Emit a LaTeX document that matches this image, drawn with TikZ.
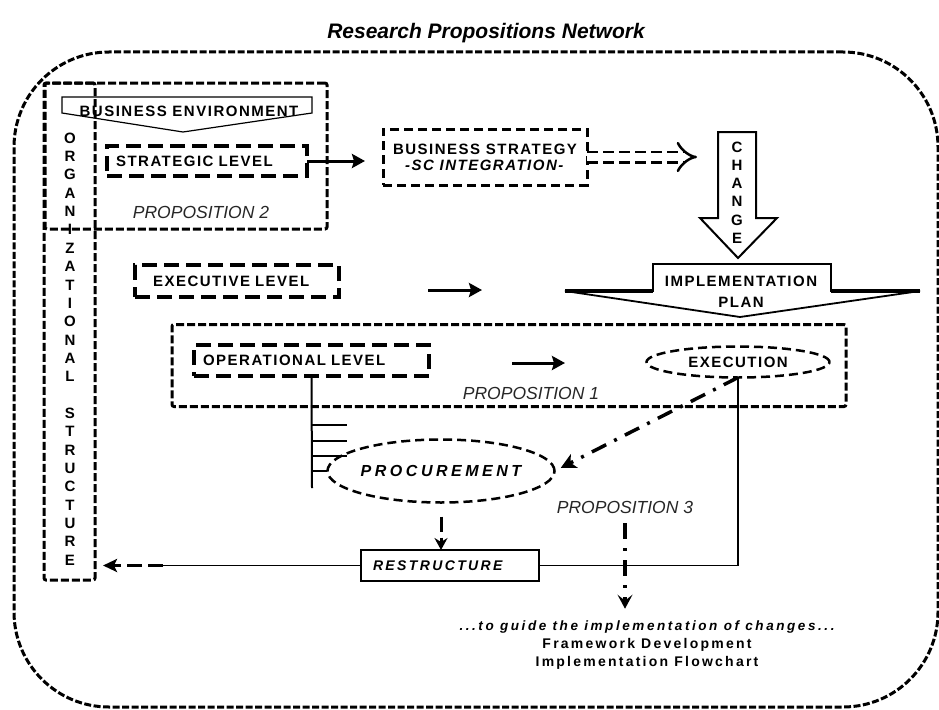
\documentclass[tikz,border=0pt]{standalone}
\usepackage{fontspec}
\setmainfont{Liberation Sans}
\newfontfamily\lblfont[LetterSpace=10]{Liberation Sans}
\usepackage{tikz}
\usetikzlibrary{shapes.geometric, arrows.meta, positioning}

\begin{document}
\begin{tikzpicture}[
    x=1pt, y=-1pt,
    every node/.style={inner sep=0pt, outer sep=0pt},
    lbl/.style={font=\lblfont\bfseries\fontsize{15}{16}\selectfont},
    bigbox/.style={draw, line width=3pt, dash pattern=on 8pt off 3pt,
                   rounded corners=2pt},
    lvlbox/.style={draw, lbl, line width=3.5pt, dash pattern=on 15pt off 7pt,
                   minimum height=30pt, align=left, inner xsep=9pt},
    oval/.style={ellipse, draw, line width=2.5pt, dash pattern=on 9pt off 5pt},
    prop/.style={font=\itshape\fontsize{17.5}{20}\selectfont, text=black!85},
    arrow/.style={-{Stealth[length=13pt, width=14pt, inset=2pt]}, line width=3pt},
    thinline/.style={line width=1.5pt},
    dashline/.style={line width=3pt, dash pattern=on 15pt off 6pt},
    dotline/.style={line width=3.5pt, dash pattern=on 16pt off 9pt on 3pt off 9pt},
    dblarrow/.style={double, double distance=8pt, line width=2.5pt,
                     dash pattern=on 11pt off 5pt, -{Implies}}
]
\useasboundingbox (0,0) rectangle (939,709);

% frame and title
\node[draw, line width=3pt, dash pattern=on 7pt off 2.5pt, rounded corners=95pt,
      minimum width=924pt, minimum height=655pt] (frame) at (476,379.5) {};
\node[font=\bfseries\itshape\fontsize{21}{24}\selectfont] (ttl) at (486,33)
    {Research Propositions Network};

% organizational structure / proposition 2
\node[bigbox, minimum width=282pt, minimum height=146pt] (prop2box) at (186,156) {};
\node[bigbox, minimum width=51pt, minimum height=497pt] (org) at (69.5,331.5) {};
\node[align=center, font=\lblfont\bfseries\fontsize{15}{18.35}\selectfont]
    (orgtxt) at (70,349)
    {O\\R\\G\\A\\N\\I\\Z\\A\\T\\I\\O\\N\\A\\L\\[18.35pt]S\\T\\R\\U\\C\\T\\U\\R\\E};

\draw[line width=1.2pt] (62,97) -- (312,97) -- (312,113) -- (183,132)
    -- (62,113) -- cycle;
\node[lbl] (benv) at (189,111) {BUSINESS ENVIRONMENT};
\node[lvlbox, text width=182pt] (stratlvl) at (207,161) {STRATEGIC LEVEL};
\node[prop] (p2) at (201,212) {PROPOSITION 2};

% strategy and change
\node[draw, lbl, line width=3pt, dash pattern=on 9pt off 5pt, minimum width=204pt,
      minimum height=56pt, align=center] (bs) at (485,157)
    {BUSINESS STRATEGY\\\textit{-SC INTEGRATION-}};
\draw[arrow, shorten >=18pt] (stratlvl.east) -- (stratlvl.east -| bs.west);

\draw[line width=2pt] (718,132) -- (756,132) -- (756,218) -- (777,218)
    -- (738,258) -- (700,218) -- (718,218) -- cycle;
\node[align=center, font=\lblfont\bfseries\fontsize{15}{18.2}\selectfont]
    (chg) at (737,192.5) {C\\H\\A\\N\\G\\E};
\coordinate (chgin) at (697,157);
\draw[dblarrow] (bs) -- (chgin);

% implementation plan
\draw[line width=1.8pt] (565,291) -- (653,291) -- (653,264) -- (831,264)
    -- (831,291) -- (920,291) -- (740,317) -- cycle;
\draw[line width=3.5pt] (565,291) -- (653,291) (831,291) -- (920,291);
\node[align=center, font=\lblfont\bfseries\fontsize{15}{21}\selectfont]
    (impl) at (741,292) {IMPLEMENTATION\\PLAN};

% executive level
\node[lvlbox, inner xsep=18pt, text width=168pt, minimum height=32pt]
    (execlvl) at (237,281) {EXECUTIVE LEVEL};
\coordinate (ea) at (428,290);
\coordinate (eb) at (482,290);
\draw[arrow] (ea) -- (eb);

% proposition 1
\node[bigbox, minimum width=674pt, minimum height=82pt] (prop1box) at (509,365.5) {};
\node[lvlbox, text width=217pt, minimum height=31pt] (operlvl) at (311.5,360.5)
    {OPERATIONAL LEVEL};
\coordinate (oa) at (512,363);
\coordinate (ob) at (565,363);
\draw[arrow] (oa) -- (ob);
\node[oval, lbl, minimum width=183pt, minimum height=31pt] (execution) at (738,362)
    {EXECUTION};
\node[prop] (p1) at (531,393) {PROPOSITION 1};

% procurement and restructure
\node[oval, font=\lblfont\bfseries\itshape\fontsize{16}{18}\selectfont\addfontfeature{LetterSpace=22},
      minimum width=187pt, minimum height=63pt] (procure) at (441,471) {PROCUREMENT};
\coordinate (treeend) at (312,488);
\draw[line width=2pt] (operlvl.south) -- (treeend);
\foreach \yy in {425,441,456}
    \draw[line width=1.2pt] (312,\yy) -- (347,\yy);
\draw[line width=1.2pt] (312,471) -- (procure.west);

\node[draw, thinline, font=\lblfont\bfseries\itshape\fontsize{14}{16}\selectfont\addfontfeature{LetterSpace=17},
      minimum height=31pt, text width=154pt, inner xsep=12pt, align=left]
    (restruct) at (450,565.5) {RESTRUCTURE};

\draw[dotline, -{Stealth[length=15pt, width=15pt, inset=4pt]}, shorten >=7pt]
    (execution.south) -- (procure.east);
\draw[thinline] (execution.south) |- (restruct.east);
\draw[dashline, -{Stealth[length=12pt, width=13pt, inset=4pt]}, shorten <=14pt]
    (procure.south) -- (procure.south |- restruct.north);
\coordinate (rsbend) at (163,565.5);
\draw[thinline] (restruct.west) -- (rsbend);
\draw[dashline, -{Stealth[length=14pt, width=13pt, inset=3pt]}, shorten >=8pt]
    (rsbend) -- (rsbend -| org.east);

% proposition 3 and outcome
\node[prop] (p3) at (625,507) {PROPOSITION 3};
\node[font=\lblfont\bfseries\itshape\fontsize{13.5}{15}\selectfont\addfontfeature{LetterSpace=19}]
    (guide) at (647,627) {...to guide the implementation of changes...};
\node[align=center, font=\lblfont\bfseries\fontsize{14}{18}\selectfont\addfontfeature{LetterSpace=16},
      below=5pt of guide] (fwdev) {Framework Development\\Implementation Flowchart};
\draw[dotline, -{Stealth[length=14pt, width=15pt, inset=6pt]},
      shorten <=10pt, shorten >=12pt] (p3.south) -- (p3.south |- guide.north);

\end{tikzpicture}
\end{document}
